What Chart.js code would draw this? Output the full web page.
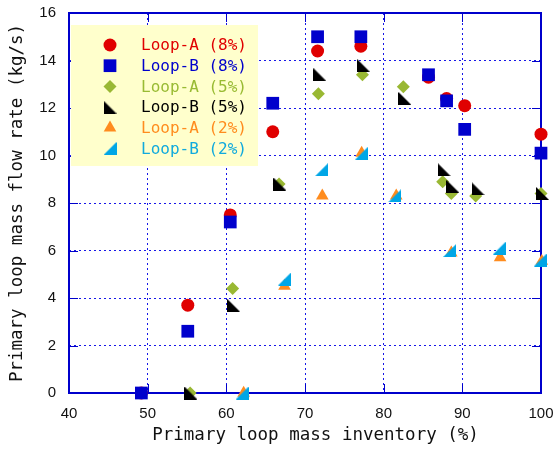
<!DOCTYPE html>
<html>
<head>
<meta charset="utf-8">
<script src="https://cdn.jsdelivr.net/npm/chart.js@4.4.0/dist/chart.umd.min.js"></script>
<style>
  html, body { margin: 0; padding: 0; background: #fff; }
  #wrap { width: 555px; height: 450px; }
</style>
</head>
<body>
<div id="wrap"><canvas id="c" width="555" height="450"></canvas></div>
<script>
// series data: x = mass inventory (%), y = flow rate (kg/s)
const seriesNames = ['Loop-A (8%)', 'Loop-B (8%)', 'Loop-A (5%)', 'Loop-B (5%)', 'Loop-A (2%)', 'Loop-B (2%)'];

const loopA8x = [49.2, 55.1, 60.5, 65.9, 71.6, 77.1, 85.7, 88.0, 90.3, 100];
const loopA8y = [0, 3.7, 7.5, 11.0, 14.4, 14.6, 13.3, 12.4, 12.1, 10.9];
const loopB8x = [49.2, 55.1, 60.5, 65.9, 71.6, 77.1, 85.7, 88.0, 90.3, 100];
const loopB8y = [0, 2.6, 7.2, 12.2, 15.0, 15.0, 13.4, 12.3, 11.1, 10.1];
const loopA5x = [55.4, 60.8, 66.7, 71.7, 77.3, 82.5, 87.5, 88.6, 91.7, 100];
const loopA5y = [0, 4.4, 8.8, 12.6, 13.4, 12.9, 8.9, 8.4, 8.3, 8.4];
const loopB5x = [55.5, 60.9, 66.8, 71.9, 77.4, 82.7, 87.7, 88.8, 92.0, 100.2];
const loopB5y = [0, 3.7, 8.8, 13.4, 13.8, 12.4, 9.4, 8.7, 8.6, 8.4];
const loopA2x = [62.2, 67.4, 72.2, 77.2, 81.6, 88.6, 94.8, 100.1];
const loopA2y = [0, 4.5, 8.3, 10.1, 8.3, 5.9, 5.7, 5.55];
const loopB2x = [62.0, 67.4, 72.1, 77.2, 81.4, 88.4, 94.7, 99.9];
const loopB2y = [0, 4.8, 9.4, 10.1, 8.3, 6.0, 6.1, 5.6];

const xTicks = [40, 50, 60, 70, 80, 90, 100];
const yTicks = [0, 2, 4, 6, 8, 10, 12, 14, 16];

const markColors = ['#e00000', '#0000cc', '#99b833', '#000000', '#ff8c1e', '#00a6e6'];
const textColors = ['#e00000', '#0000cc', '#99bb33', '#000000', '#ff8c1e', '#11aadd'];
const frameColor = '#0000cc';

// right-angle triangles (not built into Chart.js)
function rightTri(color, side) {
  const c = document.createElement('canvas');
  c.width = 13; c.height = 13;
  const g = c.getContext('2d');
  g.fillStyle = color;
  g.beginPath();
  if (side === 'left') { g.moveTo(0, 0); g.lineTo(0, 13); g.lineTo(13, 13); }
  else { g.moveTo(13, 0); g.lineTo(13, 13); g.lineTo(0, 13); }
  g.closePath();
  g.fill();
  return c;
}

const styles = [
  { pointStyle: 'circle', radius: 6.5 },
  { pointStyle: 'rect', radius: 9 },
  { pointStyle: 'rectRot', radius: 6.5 },
  { pointStyle: rightTri(markColors[3], 'left'), radius: 7 },
  { pointStyle: 'triangle', radius: 7.3 },
  { pointStyle: rightTri(markColors[5], 'right'), radius: 7 }
];

const xs = [loopA8x, loopB8x, loopA5x, loopB5x, loopA2x, loopB2x];
const ys = [loopA8y, loopB8y, loopA5y, loopB5y, loopA2y, loopB2y];

const datasets = seriesNames.map((name, i) => ({
  label: name,
  data: xs[i].map((x, j) => ({ x: x, y: ys[i][j] })),
  pointStyle: styles[i].pointStyle,
  pointRadius: styles[i].radius,
  pointBackgroundColor: markColors[i],
  pointBorderColor: markColors[i],
  pointBorderWidth: 0,
  showLine: false,
  clip: false,
  order: seriesNames.length - i
}));

// frame with inward ticks on all four sides
const framePlugin = {
  id: 'frame',
  beforeDatasetsDraw(chart) {
    const { ctx, chartArea: a, scales } = chart;
    ctx.save();
    ctx.strokeStyle = frameColor;
    ctx.lineWidth = 1;
    ctx.beginPath();
    xTicks.forEach((v) => {
      const px = Math.round(scales.x.getPixelForValue(v)) + 0.5;
      ctx.moveTo(px, a.bottom); ctx.lineTo(px, a.bottom - 9);
      ctx.moveTo(px, a.top); ctx.lineTo(px, a.top + 9);
    });
    yTicks.forEach((v) => {
      const py = Math.round(scales.y.getPixelForValue(v)) + 0.5;
      ctx.moveTo(a.left, py); ctx.lineTo(a.left + 9, py);
      ctx.moveTo(a.right, py); ctx.lineTo(a.right - 9, py);
    });
    ctx.stroke();
    ctx.lineWidth = 2;
    ctx.strokeRect(a.left, a.top, a.right - a.left, a.bottom - a.top);
    ctx.restore();
  }
};

// legend box drawn inside the plot, coloured text per series
const legendPlugin = {
  id: 'boxLegend',
  afterDatasetsDraw(chart) {
    const { ctx, chartArea: a } = chart;
    const bx = a.left + 2, by = a.top + 12, bw = 187, bh = 141;
    ctx.save();
    ctx.fillStyle = '#ffffcc';
    ctx.fillRect(bx, by, bw, bh);
    ctx.font = '16px "DejaVu Sans Mono", monospace';
    ctx.textBaseline = 'middle';
    ctx.textAlign = 'left';
    seriesNames.forEach((name, i) => {
      const y = by + 20 + i * 20.7;
      ctx.fillStyle = markColors[i];
      ctx.strokeStyle = markColors[i];
      Chart.helpers.drawPoint(ctx, { pointStyle: styles[i].pointStyle, radius: styles[i].radius, rotation: 0, borderWidth: 0 }, bx + 39, y);
      ctx.fillStyle = textColors[i];
      ctx.fillText(name, bx + 70, y + 1);
    });
    ctx.restore();
  }
};

new Chart(document.getElementById('c'), {
  type: 'scatter',
  data: { datasets: datasets },
  options: {
    responsive: false,
    animation: false,
    events: [],
    layout: { padding: { top: 13, right: 14, left: 0, bottom: 0 } },
    plugins: { legend: { display: false }, tooltip: { enabled: false } },
    scales: {
      x: {
        type: 'linear',
        min: 40, max: 100,
        afterFit: (s) => { s.height = 57; s.paddingLeft = 0; s.paddingRight = 0; },
        afterBuildTicks: (s) => { s.ticks = xTicks.map((v) => ({ value: v })); },
        grid: { color: 'rgba(10,10,230,0.95)', lineWidth: 1, drawTicks: false },
        border: { display: false, dash: [2, 3] },
        ticks: { padding: 12, color: '#111', font: { family: '"Liberation Sans", Arial, sans-serif', size: 15 } },
        title: {
          display: true,
          text: '  Primary loop mass inventory (%)',
          color: '#111',
          font: { family: '"DejaVu Sans Mono", monospace', size: 17.5 },
          padding: { top: 0, bottom: 4.5 }
        }
      },
      y: {
        type: 'linear',
        min: 0, max: 16,
        afterFit: (s) => { s.width = 69; s.paddingTop = 0; s.paddingBottom = 0; },
        afterBuildTicks: (s) => { s.ticks = yTicks.map((v) => ({ value: v })); },
        grid: { color: 'rgba(10,10,230,0.95)', lineWidth: 1, drawTicks: false },
        border: { display: false, dash: [2, 3] },
        ticks: { padding: 13, color: '#111', font: { family: '"Liberation Sans", Arial, sans-serif', size: 15 } },
        title: {
          display: true,
          text: 'Primary loop mass flow rate (kg/s)',
          color: '#111',
          font: { family: '"DejaVu Sans Mono", monospace', size: 17.5 },
          padding: { top: 6.5, bottom: 0 }
        }
      }
    }
  },
  plugins: [framePlugin, legendPlugin]
});
</script>
</body>
</html>
